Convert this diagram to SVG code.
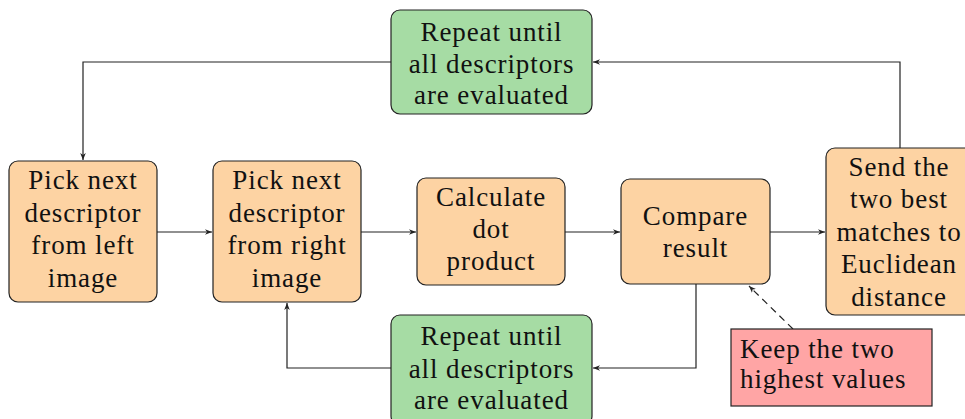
<svg xmlns="http://www.w3.org/2000/svg" width="965" height="419" viewBox="0 0 965 419">
  <style>
    .step { fill: #FDD3A3; stroke: #222; stroke-width: 1.2; }
    .loop { fill: #A6DCA4; stroke: #222; stroke-width: 1.2; }
    .note { fill: #FFA5A5; stroke: #222; stroke-width: 1.2; }
    text { font-family: "Liberation Serif", serif; font-size: 27px; letter-spacing: 0.9px; fill: #111; }
    .c { text-anchor: middle; }
    .edge { fill: none; stroke: #222; stroke-width: 1.2; }
    .dash { stroke-dasharray: 7 5; }
  </style>
  <defs>
    <marker id="arr" viewBox="0 0 10 10" refX="10" refY="5" markerWidth="7" markerHeight="7" markerUnits="userSpaceOnUse" orient="auto">
      <path d="M0,1 L10,5 L0,9 L3,5 Z" fill="#222"/>
    </marker>
  </defs>

  <g id="connectors">
    <path class="edge" d="M391,62 H83 V160" marker-end="url(#arr)"/>
    <path class="edge" d="M900,148 V62 H593" marker-end="url(#arr)"/>
    <path class="edge" d="M157,232 H212" marker-end="url(#arr)"/>
    <path class="edge" d="M361,232 H416" marker-end="url(#arr)"/>
    <path class="edge" d="M565,232 H620" marker-end="url(#arr)"/>
    <path class="edge" d="M770,232 H825" marker-end="url(#arr)"/>
    <path class="edge" d="M696,284 V368 H593" marker-end="url(#arr)"/>
    <path class="edge" d="M391,368 H287 V303" marker-end="url(#arr)"/>
    <path class="edge dash" d="M793,329 L749,286" marker-end="url(#arr)"/>
  </g>

  <g id="repeat-outer">
    <rect class="loop" x="391" y="10" width="201" height="104" rx="9"/>
    <text class="c" x="491.5" y="41">Repeat until</text>
    <text class="c" x="491.5" y="73">all descriptors</text>
    <text class="c" x="491.5" y="104">are evaluated</text>
  </g>

  <g id="pick-left">
    <rect class="step" x="9" y="161" width="148" height="141" rx="9"/>
    <text class="c" x="83" y="189">Pick next</text>
    <text class="c" x="83" y="222">descriptor</text>
    <text class="c" x="83" y="254">from left</text>
    <text class="c" x="83" y="287">image</text>
  </g>

  <g id="pick-right">
    <rect class="step" x="213" y="161" width="148" height="141" rx="9"/>
    <text class="c" x="287" y="189">Pick next</text>
    <text class="c" x="287" y="222">descriptor</text>
    <text class="c" x="287" y="254">from right</text>
    <text class="c" x="287" y="287">image</text>
  </g>

  <g id="dot-product">
    <rect class="step" x="417" y="178" width="148" height="107" rx="9"/>
    <text class="c" x="491" y="206">Calculate</text>
    <text class="c" x="491" y="238">dot</text>
    <text class="c" x="491" y="270">product</text>
  </g>

  <g id="compare">
    <rect class="step" x="621" y="179" width="149" height="105" rx="9"/>
    <text class="c" x="695.5" y="225">Compare</text>
    <text class="c" x="695.5" y="257">result</text>
  </g>

  <g id="send">
    <rect class="step" x="826" y="148" width="148" height="167" rx="9"/>
    <text class="c" x="899" y="176">Send the</text>
    <text class="c" x="899" y="208">two best</text>
    <text class="c" x="899" y="241">matches to</text>
    <text class="c" x="899" y="273">Euclidean</text>
    <text class="c" x="899" y="306">distance</text>
  </g>

  <g id="keep-note">
    <rect class="note" x="731" y="329" width="201" height="77"/>
    <text x="740" y="358">Keep the two</text>
    <text x="740" y="388">highest values</text>
  </g>

  <g id="repeat-inner">
    <rect class="loop" x="391" y="315" width="201" height="110" rx="9"/>
    <text class="c" x="491.5" y="345">Repeat until</text>
    <text class="c" x="491.5" y="378">all descriptors</text>
    <text class="c" x="491.5" y="409">are evaluated</text>
  </g>
</svg>
